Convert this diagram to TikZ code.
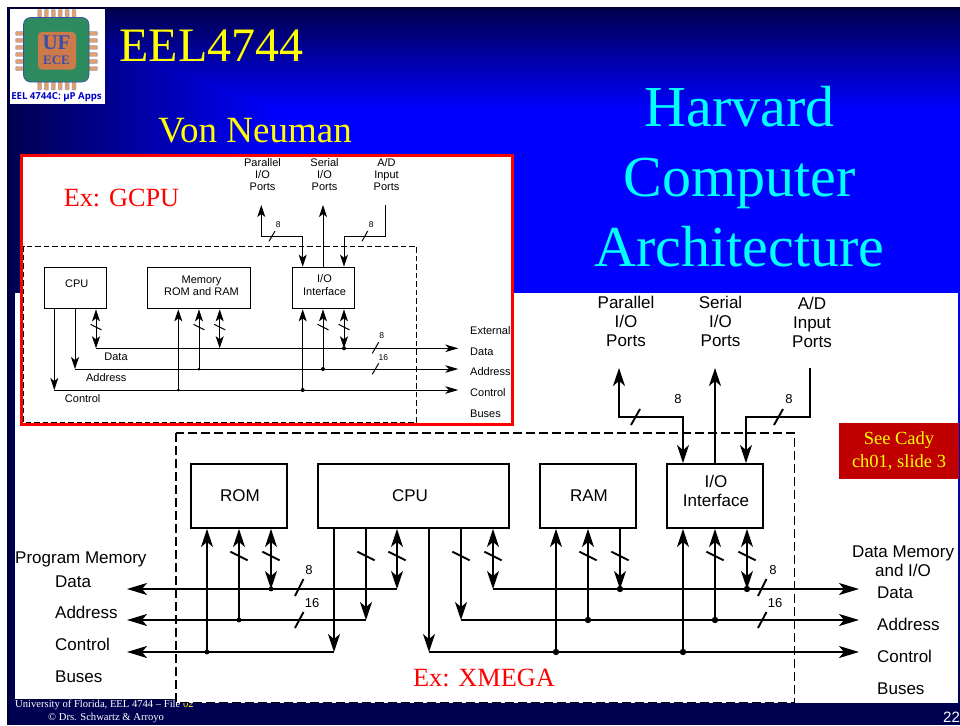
\documentclass[tikz,border=0pt]{standalone}
\usepackage{fontspec}
\setmainfont{Liberation Serif}
\newfontfamily\arialf{Liberation Sans}
\newfontfamily\logof{Open Sans}
\usetikzlibrary{arrows.meta}
\definecolor{navy}{HTML}{000050}
\definecolor{slideblue}{HTML}{0000FF}
\definecolor{dkred}{HTML}{C00000}
\definecolor{pin}{HTML}{E0A070}
\definecolor{chip}{HTML}{2E8B5F}
\definecolor{core}{HTML}{CC7A4A}
\definecolor{logoblue}{HTML}{3A4FA8}
\definecolor{titlecyan}{HTML}{00FFFF}
\definecolor{titleyellow}{HTML}{FFFF00}
\definecolor{purered}{HTML}{FF0000}
\newcommand{\fs}[1]{\fontsize{#1}{#1}\selectfont}
\tikzset{
  wire/.style={line width=1.9pt,line cap=butt,line join=miter},
  swire/.style={line width=1pt,line cap=butt,line join=miter},
  tipA/.style={-{Stealth[length=18pt,width=12pt,inset=5pt]}},
  tipB/.style={{Stealth[length=18pt,width=12pt,inset=5pt]}-{Stealth[length=18pt,width=12pt,inset=5pt]}},
  tipH/.style={-{Stealth[length=20pt,width=12pt,inset=5pt]}},
  stipA/.style={-{Stealth[length=12pt,width=8pt,inset=3pt]}},
  stipB/.style={{Stealth[length=12pt,width=8pt,inset=3pt]}-{Stealth[length=12pt,width=8pt,inset=3pt]}},
  stipH/.style={-{Stealth[length=13pt,width=7.5pt,inset=3.5pt]}},
  bigbox/.style={draw,line width=1.9pt,fill=white,inner sep=0pt,font=\arialf\fs{17},align=center},
  smallbox/.style={draw,line width=1pt,fill=white,inner sep=0pt,font=\arialf\fs{11},align=center},
  biglabel/.style={inner sep=0pt,font=\arialf\fontsize{17}{19}\selectfont,align=center},
  smalllabel/.style={inner sep=0pt,font=\arialf\fontsize{11}{12.4}\selectfont,align=center},
  numbig/.style={inner sep=0pt,font=\arialf\fs{13}},
  numsmall/.style={inner sep=0pt,font=\arialf\fs{8.5}},
  titletext/.style={inner sep=0pt,font=\fontsize{58}{70}\selectfont,text=titlecyan,align=center},
  redtext/.style={inner sep=0pt,text=purered,font=\fs{26.3}},
  logopin/.style={fill=pin,draw=logoblue!60,line width=.3pt,rounded corners=.8pt},
}
\begin{document}
\begin{tikzpicture}[x=1pt,y=-1pt]
\useasboundingbox (0,0) rectangle (960,725);
\begin{scope}
\clip (0,0) rectangle (960,725);
% ---------- slide background
\fill[white] (0,0) rectangle (960,725);
\fill[navy!60!black] (7,7) rectangle (960,724.5);
\fill[slideblue] (9,9) rectangle (960,294);
\begin{scope}
  \clip (9,9)--(280,110)--(280,294)--(9,294)--cycle;
  \shade[left color=navy,right color=slideblue] (9,9) rectangle (280,294);
\end{scope}
\begin{scope}
  \clip (9,9)--(960,9)--(960,110)--(280,110)--cycle;
  \shade[top color=navy,bottom color=slideblue] (9,9) rectangle (960,110);
\end{scope}
\fill[navy] (9,294) rectangle (15,724.5);
\fill[navy] (9,700) rectangle (960,724.5);
\shade[top color=slideblue,bottom color=navy] (958,294) rectangle (960,703);
% footer, partly covered by the white panel
\node[inner sep=0pt,anchor=base west,text=white,font=\fs{10.6}] (foot1) at (15,707) {University of Florida, EEL 4744 -- File \textcolor{titleyellow}{02}};
\node[inner sep=0pt,anchor=base west,text=white,font=\fs{10.6}] (foot2) at (48,720) {© Drs. Schwartz \& Arroyo};
\node[inner sep=0pt,anchor=base west,text=white,font=\arialf\fs{15}] (pageno) at (943,722) {22};
% white panel
\fill[white] (15,293) rectangle (958,699);
\fill[white] (176,293) rectangle (958,703);
% ---------- logo
\fill[white] (9.5,9.5) rectangle (105,104);
\foreach \k in {0,...,5}{
  \fill[logopin] ({37.5+\k*6.9},9.5) rectangle ({41.5+\k*6.9},20);
  \fill[logopin] ({37.5+\k*6.9},79) rectangle ({41.5+\k*6.9},90);
  \fill[logopin] (15.5,{31.5+\k*7}) rectangle (27,{35.5+\k*7});
  \fill[logopin] (86,{31.5+\k*7}) rectangle (97.5,{35.5+\k*7});
}
\fill[chip,draw=logoblue,line width=.6pt,rounded corners=7pt] (23.5,17.5) rectangle (89,82);
\fill[core,rounded corners=4pt] (38,32) rectangle (76,69.5);
\node[inner sep=0pt,text=logoblue,font=\bfseries\fs{21}] (logouf) at (56.5,42.5) {UF};
\node[inner sep=0pt,text=logoblue,font=\bfseries\fs{13}] (logoece) at (56.5,60.5) {ECE};
\node[inner sep=0pt,text=blue!80!black,font=\logof\bfseries\fs{9.6}] (logotxt) at (56.5,97.5) {EEL 4744C: μP Apps};
% ---------- titles
\node[inner sep=0pt,anchor=base,text=titleyellow,font=\fs{48}] (eel) at (211.5,62) {EEL4744};
\node[inner sep=0pt,anchor=base,text=titleyellow,font=\fs{37}] (von) at (255,142) {Von Neuman};
\node[titletext] (harv) at (739.5,177) {Harvard\\Computer\\Architecture};
% ---------- large diagram
\draw[line width=1.9pt,dash pattern=on 9pt off 4pt] (176,433) rectangle (794.5,702.5);
\node[bigbox,minimum width=96pt,minimum height=64pt] (rom) at (239,496) {\hspace{2pt}ROM};
\node[bigbox,minimum width=191pt,minimum height=64pt] (cpu) at (413.5,496) {};
\node[inner sep=0pt,font=\arialf\fs{17}] (cputxt) at (410,496) {CPU};
\node[bigbox,minimum width=96pt,minimum height=64pt] (ram) at (588,496) {\hspace{2pt}RAM};
\node[bigbox,minimum width=96pt,minimum height=64pt] (io) at (715,496) {};
\node[biglabel,font=\arialf\fontsize{17}{19.5}\selectfont] (iotxt) at (716,491) {I/O\\Interface};
% port labels
\node[biglabel] (pp) at (626,321) {Parallel\\I/O\\Ports};
\node[biglabel] (sp) at (720.5,321) {Serial\\I/O\\Ports};
\node[biglabel] (ap) at (812,322) {A/D\\Input\\Ports};
\coordinate (ppe) at (619,368);
\coordinate (ppk) at (619,417);
\coordinate (ppl) at (683,417);
\coordinate (spe) at (715,368);
\coordinate (ape) at (810,368);
\coordinate (apk) at (810,417);
\coordinate (apl) at (746,417);
\draw[wire,tipA] (ppl) -- (ppk) -- (ppe);
\draw[wire,tipA] (ppk) -- (ppl) -- (ppl |- io.north);
\draw[wire,tipA] (spe |- io.north) -- (spe);
\draw[wire,tipA] (ape) -- (apk) -- (apl) -- (apl |- io.north);
\coordinate (ts1a) at (631,425); \coordinate (ts1b) at (640,409);
\coordinate (ts2a) at (774,425); \coordinate (ts2b) at (783,409);
\draw[wire] (ts1a) -- (ts1b);
\draw[wire] (ts2a) -- (ts2b);
\node[numbig] (n8a) at (678,399) {8};
\node[numbig] (n8b) at (789,399) {8};
% buses
\coordinate (dl) at (127,589); \coordinate (al) at (127,620); \coordinate (cl) at (127,652);
\coordinate (dr) at (859,589); \coordinate (ar) at (859,620); \coordinate (cr) at (859,652);
\coordinate (d1) at (397,589); \coordinate (a1) at (366,620); \coordinate (c1) at (334,652);
\coordinate (d2) at (493,589); \coordinate (a2) at (461,620); \coordinate (c2) at (429,652);
\draw[wire,tipH] (d1) -- (dl);
\draw[wire,tipH] (a1) -- (al);
\draw[wire,tipH] (c1) -- (cl);
\draw[wire,tipH] (d2) -- (dr);
\draw[wire,tipH] (a2) -- (ar);
\draw[wire,tipH] (c2) -- (cr);
\draw[wire,tipA] (a1 |- cpu.south) -- (a1);
\draw[wire,tipA] (c1 |- cpu.south) -- (c1);
\draw[wire,tipA] (a2 |- cpu.south) -- (a2);
\draw[wire,tipA] (c2 |- cpu.south) -- (c2);
\draw[wire,tipB] (d1 |- cpu.south) -- (d1);
\draw[wire,tipB] (d2 |- cpu.south) -- (d2);
% memory and I/O stubs
\coordinate (romc) at (207,652); \coordinate (roma) at (239,620); \coordinate (romd) at (271,589);
\coordinate (ramc) at (556,652); \coordinate (rama) at (588,620); \coordinate (ramd) at (620,589);
\coordinate (ioc) at (683,652); \coordinate (ioa) at (715,620); \coordinate (iod) at (747,589);
\draw[wire,tipA] (romc) -- (romc |- rom.south);
\draw[wire,tipA] (roma) -- (roma |- rom.south);
\draw[wire,tipB] (romd) -- (romd |- rom.south);
\draw[wire,tipA] (ramc) -- (ramc |- ram.south);
\draw[wire,tipA] (rama) -- (rama |- ram.south);
\draw[wire,tipA] (ramd |- ram.south) -- (ramd);
\draw[wire,tipA] (ioc) -- (ioc |- io.south);
\draw[wire,tipA] (ioa) -- (ioa |- io.south);
\draw[wire,tipB] (iod) -- (iod |- io.south);
\foreach \c/\r in {romc/2.4,roma/2.4,romd/2.4,ramc/3.2,rama/3.2,ramd/3.2,ioc/3.2,ioa/3.2,iod/3.2}
  \fill (\c) circle (\r pt);
% slashes on stubs
\foreach \x in {239,271,366,397,461,493,588,620,715,747}
  \draw[wire] (\x-8.7,551.7) -- (\x+8.7,560.3);
\foreach \x in {295,758}{
  \draw[wire] (\x,596) -- (\x+8.5,579);
  \draw[wire] (\x,628) -- (\x+8.5,612);
}
\node[numbig] (b8l) at (309,570) {8};
\node[numbig] (b16l) at (312,603) {16};
\node[numbig] (b8r) at (773,570) {8};
\node[numbig] (b16r) at (775,603) {16};
% bus labels
\node[biglabel,anchor=base west] (pm) at (15,563) {Program Memory};
\node[biglabel,anchor=base west] (ldata) at (55,587) {Data};
\node[biglabel,anchor=base west] (laddr) at (55,618) {Address};
\node[biglabel,anchor=base west] (lctrl) at (55,650) {Control};
\node[biglabel,anchor=base west] (lbus) at (55,682) {Buses};
\node[biglabel] (dm) at (903,561) {Data Memory\\and I/O};
\node[biglabel,anchor=base west] (rdata) at (877,598) {Data};
\node[biglabel,anchor=base west] (raddr) at (877,630) {Address};
\node[biglabel,anchor=base west] (rctrl) at (877,662) {Control};
\node[biglabel,anchor=base west] (rbus) at (877,694) {Buses};
\node[redtext,anchor=base] (xmega) at (484,686) {Ex: XMEGA};
% see cady
\node[fill=dkred,inner sep=0pt,minimum width=120pt,minimum height=56pt,text=titleyellow,font=\fontsize{18.5}{23}\selectfont,align=center] (cady) at (899,451) {\raisebox{-2pt}{See Cady}\\\raisebox{-2pt}{ch01, slide 3}};
% ---------- inset (Von Neuman)
\node[draw=purered,line width=3pt,fill=white,inner sep=0pt,minimum width=491pt,minimum height=269pt] (inset) at (267,289.5) {};
\draw[line width=1pt,dash pattern=on 5.5pt off 3pt] (23.5,246) rectangle (416.7,422.5);
\node[redtext,anchor=base] (gcpu) at (121.5,206) {Ex: GCPU};
\node[smallbox,minimum width=62pt,minimum height=41.7pt] (scpu) at (75,288) {};
\node[inner sep=0pt,font=\arialf\fs{11}] (scputxt) at (76.7,284) {CPU};
\node[smallbox,minimum width=103.3pt,minimum height=41.7pt] (smem) at (199.3,288) {};
\node[smalllabel] (smemtxt) at (201.5,286) {Memory\\ROM and RAM};
\node[smallbox,minimum width=62pt,minimum height=41.7pt] (sio) at (323.3,288) {};
\node[smalllabel] (siotxt) at (324.5,285) {I/O\\Interface};
\node[smalllabel] (spp) at (262.5,174.5) {Parallel\\I/O\\Ports};
\node[smalllabel] (ssp) at (324.5,174.5) {Serial\\I/O\\Ports};
\node[smalllabel] (sap) at (386.5,174.5) {A/D\\Input\\Ports};
\coordinate (sppe) at (261.3,205);
\coordinate (sppk) at (261.3,236.3);
\coordinate (sppl) at (302.7,236.3);
\coordinate (sspe) at (323,205);
\coordinate (sape) at (385.3,205);
\coordinate (sapk) at (385.3,236.3);
\coordinate (sapl) at (344,236.3);
\draw[swire,stipA] (sppk) -- (sppe);
\draw[swire,stipA] (sppk) -- (sppl) -- (sppl |- sio.north);
\draw[swire,stipA] (sspe |- sio.north) -- (sspe);
\draw[swire,stipA] (sape) -- (sapk) -- (sapl) -- (sapl |- sio.north);
\draw[swire] (269,241.3) -- (275,231);
\draw[swire] (362,241.3) -- (367.7,231);
\node[numsmall] (s8a) at (278.3,224.7) {8};
\node[numsmall] (s8b) at (371.3,224.7) {8};
\coordinate (sdc) at (96,348.3); \coordinate (sac) at (75,369); \coordinate (scc) at (54.3,390);
\coordinate (sdr) at (458.3,348.3); \coordinate (sar) at (458.3,369); \coordinate (scr) at (458.3,390);
\draw[swire,stipB] (sdc |- scpu.south) -- (sdc);
\draw[swire,stipA] (sac |- scpu.south) -- (sac);
\draw[swire,stipA] (scc |- scpu.south) -- (scc);
\draw[swire,stipH] (sdc) -- (sdr);
\draw[swire,stipH] (sac) -- (sar);
\draw[swire,stipH] (scc) -- (scr);
\coordinate (smc) at (178.3,390); \coordinate (sma) at (199,369); \coordinate (smd) at (219.7,348.3);
\coordinate (sic) at (302.7,390); \coordinate (sia) at (323,369); \coordinate (sid) at (344,348.3);
\draw[swire,stipA] (smc) -- (smc |- smem.south);
\draw[swire,stipA] (sma) -- (sma |- smem.south);
\draw[swire,stipB] (smd) -- (smd |- smem.south);
\draw[swire,stipA] (sic) -- (sic |- sio.south);
\draw[swire,stipA] (sia) -- (sia |- sio.south);
\draw[swire,stipB] (sid) -- (sid |- sio.south);
\foreach \c/\r in {smc/1.5,sma/1.5,sic/2,sia/2,sid/2}
  \fill (\c) circle (\r pt);
\foreach \x in {96,199,219.7,323,344}
  \draw[swire] (\x-5.5,324.3) -- (\x+5.5,329.9);
\draw[swire] (372.3,353.3) -- (378.7,342.3);
\draw[swire] (372.3,374.3) -- (378.7,363.3);
\node[numsmall] (s8d) at (381.7,336) {8};
\node[numsmall] (s16d) at (383.3,357.7) {16};
\node[smalllabel] (sdata) at (116,357) {Data};
\node[smalllabel] (saddr) at (106.3,377.5) {Address};
\node[smalllabel] (sctrl) at (82.7,399) {Control};
\node[smalllabel,anchor=base west] (rs1) at (470,334) {External};
\node[smalllabel,anchor=base west] (rs2) at (470,355) {Data};
\node[smalllabel,anchor=base west] (rs3) at (470,375.5) {Address};
\node[smalllabel,anchor=base west] (rs4) at (470,396) {Control};
\node[smalllabel,anchor=base west] (rs5) at (470,417) {Buses};
\end{scope}
\end{tikzpicture}
\end{document}
